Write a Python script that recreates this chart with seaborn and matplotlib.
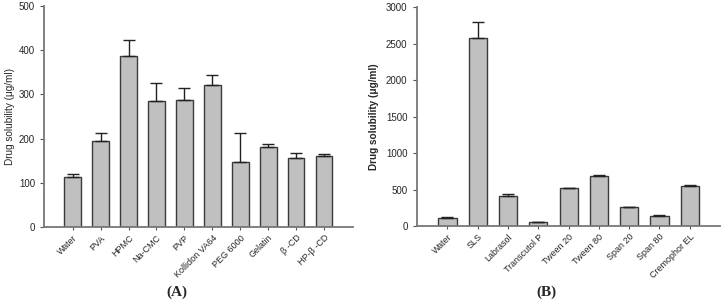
import matplotlib
matplotlib.use("Agg")
import matplotlib.pyplot as plt
import seaborn as sns
import pandas as pd
import numpy as np

cats_a = ["Water", "PVA", "HPMC", "Na-CMC", "PVP", "Kollidon VA64", "PEG 6000",
          "Gelatin", "β -CD", "HP-β -CD"]
vals_a = [114, 195, 386, 286, 288, 321, 147, 182, 156, 161]
errs_a = [6, 17, 38, 40, 26, 23, 65, 6, 11, 4]

cats_b = ["Water", "SLS", "Labrasol", "Transcutol P", "Tween 20", "Tween 80",
          "Span 20", "Span 80", "Cremophor EL"]
vals_b = [112, 2583, 411, 59, 517, 686, 256, 137, 549]
errs_b = [8, 210, 25, 4, 5, 12, 12, 15, 20]

sns.set_theme(style="ticks")
plt.rcParams["font.family"] = ["Liberation Sans", "DejaVu Sans"]

fig = plt.figure(figsize=(7.27, 3.06), dpi=100)
axA = fig.add_axes([0.0605, 0.258, 0.4251, 0.722])
axB = fig.add_axes([0.573, 0.261, 0.417, 0.715])

def draw(ax, cats, vals, errs, ymax, step, xlim, bold, pad):
    df = pd.DataFrame({"cat": cats, "val": vals})
    sns.barplot(data=df, x="cat", y="val", ax=ax, color="#c0c0c0",
                edgecolor="#3a3a3a", linewidth=1.0, width=0.6, saturation=1,
                errorbar=None)
    x = np.arange(len(cats))
    ax.errorbar(x, vals, yerr=[np.zeros(len(vals)), errs], fmt="none",
                ecolor="#222222", elinewidth=1.0, capsize=4, capthick=1.0)
    ax.set_ylim(0, ymax)
    ax.set_xlim(*xlim)
    ax.set_yticks(np.arange(0, ymax + 1, step))
    ax.set_xlabel("")
    ax.set_ylabel("Drug solubility (μg/ml)", fontsize=7.2,
                  fontweight="bold" if bold else "normal", labelpad=pad)
    ax.set_xticks(x)
    ax.set_xticklabels(cats, rotation=45, ha="right", rotation_mode="anchor",
                       fontsize=6.5)
    ax.tick_params(axis="y", labelsize=7, length=3, width=0.8, color="#555555")
    ax.tick_params(axis="x", length=2.5, width=0.8, color="#555555", pad=2)
    for s in ["top", "right"]:
        ax.spines[s].set_visible(False)
    for s in ["left", "bottom"]:
        ax.spines[s].set_color("#777777")
        ax.spines[s].set_linewidth(1.3)

draw(axA, cats_a, vals_a, errs_a, 500, 100, (-1.03, 10.04), False, 3)
draw(axB, cats_b, vals_b, errs_b, 3000, 500, (-1.02, 8.99), True, 5)

fig.text(0.243, 0.046, "(A)", fontsize=11, family=["Liberation Serif"],
         fontweight="bold", ha="center", va="center")
fig.text(0.752, 0.046, "(B)", fontsize=11, family=["Liberation Serif"],
         fontweight="bold", ha="center", va="center")

fig.savefig("out.png", dpi=100)
